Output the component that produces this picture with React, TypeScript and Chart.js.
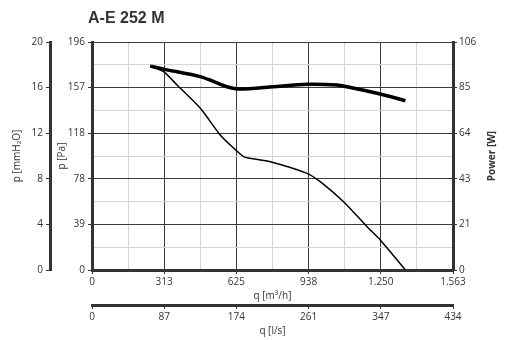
import React, { useEffect, useRef } from "react";
import { Chart, registerables } from "chart.js";

Chart.register(...registerables);

const TITLE = "A-E 252 M";

// Pressure curve (q in m³/h, p in Pa)
const pressureQ = [252, 310, 368, 469, 555, 599, 656, 684, 772, 931, 988, 1089, 1191, 1248, 1357];
const pressurePa = [175.4, 170.5, 159.0, 139.0, 116.0, 107.4, 97.5, 96.0, 93.1, 83.1, 75.9, 58.7, 37.2, 25.8, 0];

// Power curve (q in m³/h, power in W)
const powerQ = [252, 310, 469, 520, 584, 642, 786, 931, 1061, 1104, 1248, 1357];
const powerW = [94.8, 93.4, 89.9, 87.9, 85.2, 84.1, 85.2, 86.3, 86.0, 85.2, 81.8, 78.7];

// Axis ranges and tick labels
const flowMax = 1563;
const flowLabels = ["0", "313", "625", "938", "1.250", "1.563"];
const lsMax = 434;
const lsLabels = ["0", "87", "174", "261", "347", "434"];
const paMax = 196;
const paLabels = ["0", "39", "78", "118", "157", "196"];
const mmMax = 20;
const mmLabels = ["0", "4", "8", "12", "16", "20"];
const wMax = 106;
const wLabels = ["0", "21", "43", "64", "85", "106"];

const FLOW_TITLE = "q [m³/h]";
const LS_TITLE = "q [l/s]";
const PA_TITLE = "p [Pa]";
const MM_TITLE = "p [mmH₂O]";
const W_TITLE = "Power [W]";

const AXIS = "#333333";
const MAJOR = "#3c3c3c";
const MINOR = "#d4d4d4";
const TEXT = "#333333";

function tickValues(max: number, n: number) {
  const out: { value: number }[] = [];
  for (let i = 0; i <= n; i++) out.push({ value: (max * i) / n });
  return out;
}

const textPlugin = {
  id: "extraText",
  afterDraw(chart: any) {
    const { ctx, chartArea } = chart;
    ctx.save();
    ctx.fillStyle = TEXT;
    ctx.textBaseline = "middle";
    ctx.textAlign = "left";
    ctx.font = 'bold 16px "Liberation Sans", Arial, sans-serif';
    ctx.fillText(TITLE, 88, 19);
    ctx.translate(492, (chartArea.top + chartArea.bottom) / 2);
    ctx.rotate(-Math.PI / 2);
    ctx.textAlign = "center";
    ctx.font = 'bold 10px "Open Sans", sans-serif';
    ctx.fillText(W_TITLE, 0, 0);
    ctx.restore();
  },
};

export default function App() {
  const ref = useRef<HTMLCanvasElement | null>(null);

  useEffect(() => {
    if (!ref.current) return;
    Chart.defaults.font.family = '"Open Sans", sans-serif';
    Chart.defaults.font.size = 10;
    Chart.defaults.color = TEXT;

    const titleFont = { family: '"Open Sans", sans-serif', size: 10 };

    const chart = new Chart(ref.current, {
      type: "line",
      data: {
        datasets: [
          {
            label: "p",
            data: pressureQ.map((q, i) => ({ x: q, y: pressurePa[i] })),
            borderColor: "#000",
            borderWidth: 1.5,
            pointRadius: 0,
            tension: 0.25,
            yAxisID: "y",
            xAxisID: "x",
          },
          {
            label: "P",
            data: powerQ.map((q, i) => ({ x: q, y: powerW[i] })),
            borderColor: "#000",
            borderWidth: 3.5,
            pointRadius: 0,
            tension: 0.25,
            yAxisID: "yR",
            xAxisID: "x",
          },
        ],
      },
      options: {
        animation: false,
        responsive: false,
        devicePixelRatio: 1,
        layout: { padding: { top: 42, left: 0, right: 0, bottom: 0 } },
        plugins: { legend: { display: false }, tooltip: { enabled: false }, title: { display: false } },
        scales: {
          x: {
            type: "linear",
            position: "bottom",
            weight: 0,
            min: 0,
            max: flowMax,
            afterBuildTicks: (s: any) => { s.ticks = tickValues(flowMax, 10); },
            afterFit: (s: any) => { s.height = 35; },
            ticks: {
              autoSkip: false,
              maxRotation: 0,
              padding: 2,
              callback: (_v: any, i: number) => (i % 2 === 0 ? flowLabels[i / 2] : ""),
            },
            grid: {
              color: (c: any) => (c.index % 2 === 0 ? MAJOR : MINOR),
              tickColor: (c: any) => (c.index % 2 === 0 ? AXIS : "rgba(0,0,0,0)"),
              tickLength: 4,
              lineWidth: 1,
            },
            border: { display: true, color: AXIS, width: 3 },
            title: { display: true, text: FLOW_TITLE, font: titleFont, color: TEXT, padding: { top: 0, bottom: 3 } },
          },
          x2: {
            type: "linear",
            position: "bottom",
            weight: 1,
            min: 0,
            max: lsMax,
            afterBuildTicks: (s: any) => { s.ticks = tickValues(lsMax, 5); },
            afterFit: (s: any) => { s.height = 35; },
            ticks: {
              autoSkip: false,
              maxRotation: 0,
              padding: 2,
              callback: (_v: any, i: number) => lsLabels[i],
            },
            grid: { drawOnChartArea: false, tickColor: AXIS, tickLength: 4 },
            border: { display: true, color: AXIS, width: 3 },
            title: { display: true, text: LS_TITLE, font: titleFont, color: TEXT, padding: { top: 0, bottom: 3 } },
          },
          y: {
            type: "linear",
            position: "left",
            weight: 0,
            min: 0,
            max: paMax,
            afterBuildTicks: (s: any) => { s.ticks = tickValues(paMax, 10); },
            afterFit: (s: any) => { s.width = 42; },
            ticks: {
              autoSkip: false,
              padding: 3,
              callback: (_v: any, i: number) => (i % 2 === 0 ? paLabels[i / 2] : ""),
            },
            grid: {
              color: (c: any) => (c.index % 2 === 0 ? MAJOR : MINOR),
              tickColor: (c: any) => (c.index % 2 === 0 ? AXIS : "rgba(0,0,0,0)"),
              tickLength: 4,
              lineWidth: 1,
            },
            border: { display: true, color: AXIS, width: 3 },
            title: { display: true, text: PA_TITLE, font: titleFont, color: TEXT, padding: { top: 6, bottom: 0 } },
          },
          y2: {
            type: "linear",
            position: "left",
            weight: 1,
            min: 0,
            max: mmMax,
            afterBuildTicks: (s: any) => { s.ticks = tickValues(mmMax, 5); },
            afterFit: (s: any) => { s.width = 50; },
            ticks: {
              autoSkip: false,
              padding: 3,
              callback: (_v: any, i: number) => mmLabels[i],
            },
            grid: { drawOnChartArea: false, tickColor: AXIS, tickLength: 4 },
            border: { display: true, color: AXIS, width: 3 },
            title: { display: true, text: MM_TITLE, font: titleFont, color: TEXT, padding: { top: 11, bottom: 0 } },
          },
          yR: {
            type: "linear",
            position: "right",
            min: 0,
            max: wMax,
            afterBuildTicks: (s: any) => { s.ticks = tickValues(wMax, 5); },
            afterFit: (s: any) => { s.width = 57; },
            ticks: {
              autoSkip: false,
              padding: 2,
              callback: (_v: any, i: number) => wLabels[i],
            },
            grid: { drawOnChartArea: false, tickColor: AXIS, tickLength: 4 },
            border: { display: true, color: AXIS, width: 3 },
            title: { display: false },
          },
        },
      } as any,
      plugins: [textPlugin],
    });
    return () => chart.destroy();
  }, []);

  return (
    <div style={{ position: "absolute", left: 0, top: 0, width: 510, height: 340, background: "#fff" }}>
      <canvas ref={ref} width={510} height={340} />
    </div>
  );
}
